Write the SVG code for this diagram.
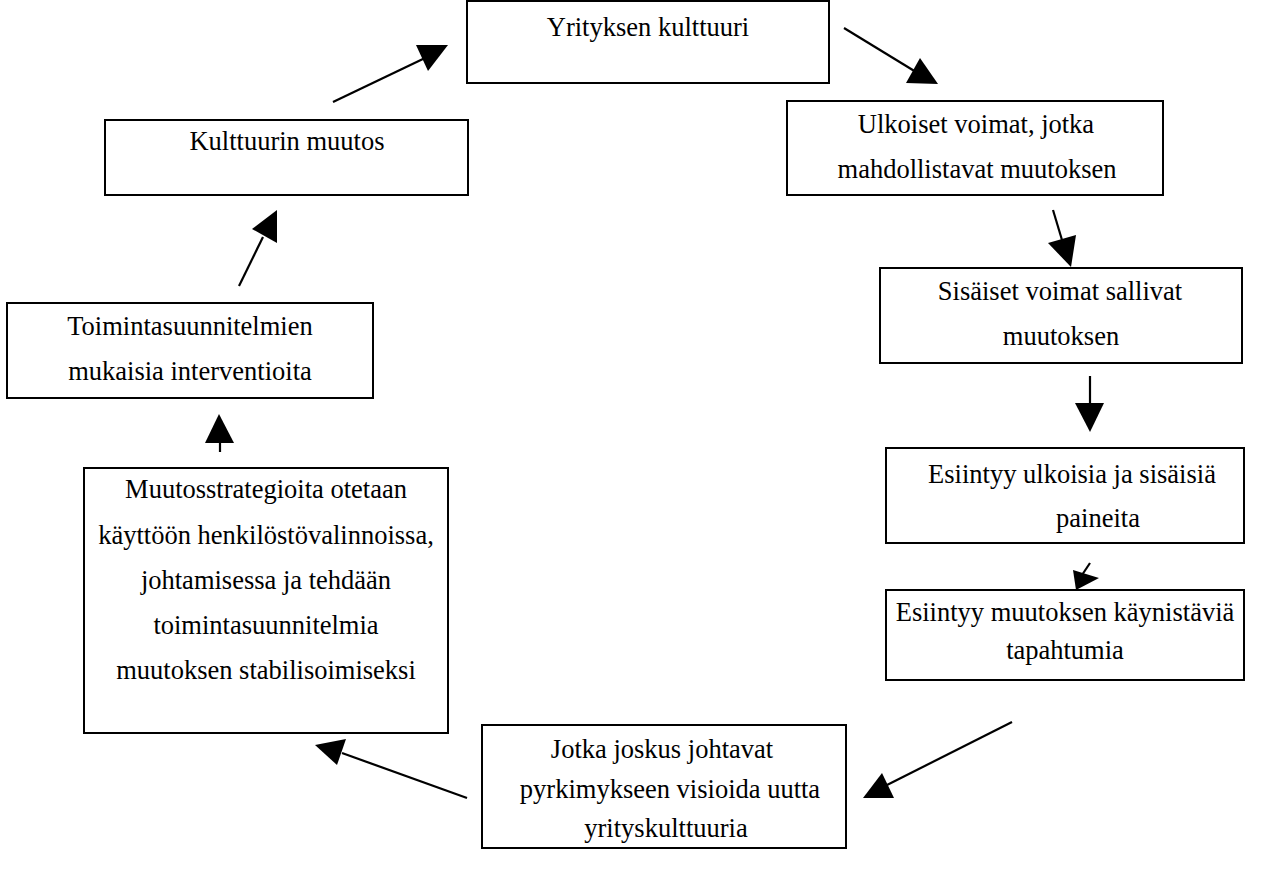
<svg xmlns="http://www.w3.org/2000/svg" width="1284" height="874" viewBox="0 0 1284 874">
<style>
.box{fill:#fff;stroke:#000;stroke-width:2}
.t{font-family:"Liberation Serif","Times New Roman",serif;font-size:26.5px;fill:#000;text-anchor:middle}
.ln{stroke:#000;stroke-width:2.2;fill:none}
.hd{fill:#000;stroke:none}
</style>
<rect width="1284" height="874" fill="#fff"/>
<g id="n1"><rect class="box" x="467" y="1" width="362" height="82"/><text class="t" x="648" y="36">Yrityksen kulttuuri</text></g>
<g id="n2"><rect class="box" x="787" y="101" width="376" height="94"/><text class="t" x="976" y="133">Ulkoiset voimat, jotka</text><text class="t" x="977" y="178">mahdollistavat muutoksen</text></g>
<g id="n3"><rect class="box" x="880" y="268" width="362" height="95"/><text class="t" x="1060" y="300">Sisäiset voimat sallivat</text><text class="t" x="1061" y="345">muutoksen</text></g>
<g id="n4"><rect class="box" x="886" y="448" width="358" height="95"/><text class="t" x="1072" y="483">Esiintyy ulkoisia ja sisäisiä</text><text class="t" x="1098" y="527">paineita</text></g>
<g id="n5"><rect class="box" x="886" y="590" width="358" height="90"/><text class="t" x="1065" y="621">Esiintyy muutoksen käynistäviä</text><text class="t" x="1065" y="659">tapahtumia</text></g>
<g id="n6"><rect class="box" x="482" y="725" width="364" height="123"/><text class="t" x="662" y="758">Jotka joskus johtavat</text><text class="t" x="670" y="798">pyrkimykseen visioida uutta</text><text class="t" x="666" y="837">yrityskulttuuria</text></g>
<g id="n7"><rect class="box" x="84" y="468" width="364" height="265"/><text class="t" x="266" y="498">Muutosstrategioita otetaan</text><text class="t" x="266" y="544">käyttöön henkilöstövalinnoissa,</text><text class="t" x="266" y="589">johtamisessa ja tehdään</text><text class="t" x="266" y="634">toimintasuunnitelmia</text><text class="t" x="266" y="679">muutoksen stabilisoimiseksi</text></g>
<g id="n8"><rect class="box" x="7" y="303" width="366" height="95"/><text class="t" x="190" y="335">Toimintasuunnitelmien</text><text class="t" x="190" y="380">mukaisia interventioita</text></g>
<g id="n9"><rect class="box" x="105" y="120" width="363" height="75"/><text class="t" x="287" y="150">Kulttuurin muutos</text></g>
<g id="connectors">
<line class="ln" x1="333" y1="102" x2="425" y2="58"/><polygon class="hd" points="416,45 448,45 428,71"/>
<line class="ln" x1="844" y1="28" x2="916" y2="72"/><polygon class="hd" points="920,58 938,84 906,83"/>
<line class="ln" x1="1053" y1="210" x2="1062" y2="240"/><polygon class="hd" points="1048,243 1076,235 1071,267"/>
<line class="ln" x1="1090" y1="376" x2="1090" y2="404"/><polygon class="hd" points="1075,403 1104,403 1090,432"/>
<line class="ln" x1="1090" y1="563" x2="1082" y2="575"/><polygon class="hd" points="1073,570 1099,578 1076,590"/>
<line class="ln" x1="1012" y1="722" x2="887" y2="785"/><polygon class="hd" points="882,773 894,798 863,798"/>
<line class="ln" x1="467" y1="798" x2="342" y2="753"/><polygon class="hd" points="315,745 346,739 337,765"/>
<line class="ln" x1="239" y1="286" x2="263" y2="237"/><polygon class="hd" points="252,229 277,210 277,243"/>
<line class="ln" x1="220" y1="452" x2="220" y2="440"/><polygon class="hd" points="219,414 234,443 205,443"/>
</g>
</svg>
